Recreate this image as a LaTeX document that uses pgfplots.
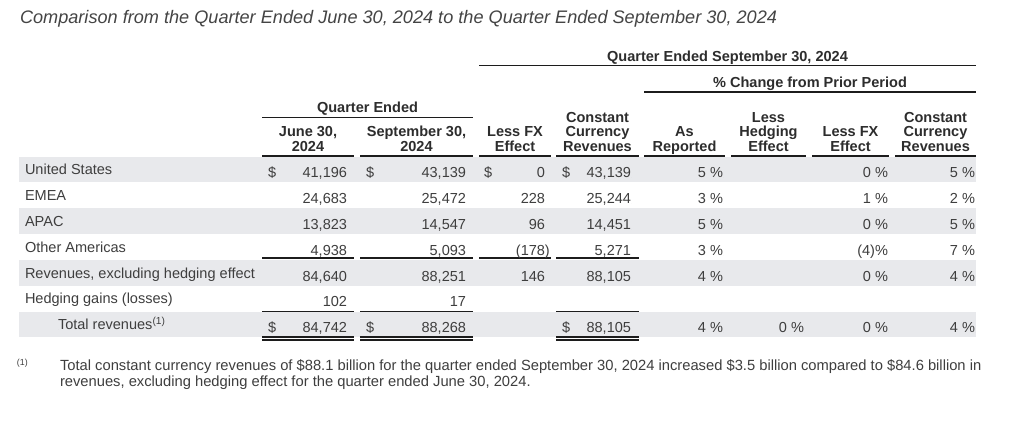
\documentclass[border=0pt]{standalone}
\usepackage{pgfplots}
\pgfplotsset{compat=1.18}
\usepackage{fontspec}
\setmainfont{Liberation Sans}
\definecolor{txtc}{RGB}{62,62,62}
\definecolor{hdrc}{RGB}{45,45,45}
\definecolor{titc}{RGB}{68,68,68}
\definecolor{bandc}{RGB}{232,233,236}
\definecolor{rulec}{RGB}{28,28,28}
\newcommand\bodyfont{\fontsize{10.9pt}{13pt}\selectfont}
\newcommand\footfont{\fontsize{11.05pt}{13pt}\selectfont}
\newcommand\titlefont{\fontsize{13.6pt}{16pt}\selectfont\itshape}
\newcommand\smallfont{\fontsize{6.6pt}{8pt}\selectfont}
\newcommand\rp{\makebox[0pt][l]{)}}
\pgfplotsset{
  txt/.style={only marks, mark=*, mark size=0pt, mark options={draw=none,fill=none},
    point meta=explicit symbolic, nodes near coords,
    every node near coord/.append style={inner sep=0pt, outer sep=0pt, text=txtc, font=\bodyfont}},
  L/.style={txt, every node near coord/.append style={anchor=base west}},
  R/.style={txt, every node near coord/.append style={anchor=base east}},
  C/.style={txt, every node near coord/.append style={anchor=base, font=\bodyfont\bfseries, text=hdrc}},
  bandp/.style={draw=none, fill=bandc},
  rl/.style={draw=rulec, line width=1.3pt, unbounded coords=jump, mark=none},
  rd/.style={draw=rulec, line width=0.9pt, unbounded coords=jump, mark=none},
}
\begin{document}
\begin{tikzpicture}
\begin{axis}[
  scale only axis, width=768pt, height=315.75pt,
  xmin=0, xmax=1024, ymin=0, ymax=421, y dir=reverse,
  hide axis, clip=false,
]
% background
\addplot[draw=none, fill=white] coordinates {(0,0)(1024,0)(1024,421)(0,421)};
% row bands
\addplot[bandp] coordinates {(19,156.5)(976,156.5)(976,182)(19,182)};
\addplot[bandp] coordinates {(19,208)(976,208)(976,233.5)(19,233.5)};
\addplot[bandp] coordinates {(19,260)(976,260)(976,285.5)(19,285.5)};
\addplot[bandp] coordinates {(19,312)(976,312)(976,337)(19,337)};
% rules
\addplot[rl] coordinates {(479,65.5)(976,65.5)};
\addplot[rl] coordinates {(644,92)(976,92)};
\addplot[rl] coordinates {(262,117.5)(473,117.5)};
\addplot[rl] coordinates {(262,156)(354,156) (nan,nan) (360,156)(473,156) (nan,nan) (479,156)(551,156) (nan,nan) (556,156)(639,156) (nan,nan) (644,156)(725,156) (nan,nan) (731,156)(806,156) (nan,nan) (812,156)(889,156) (nan,nan) (895,156)(976,156)};
\addplot[rl] coordinates {(262,258)(354,258) (nan,nan) (360,258)(473,258) (nan,nan) (479,258)(551,258) (nan,nan) (556,258)(639,258)};
\addplot[rl] coordinates {(262,311.5)(354,311.5) (nan,nan) (360,311.5)(473,311.5) (nan,nan) (556,311.5)(639,311.5)};
\addplot[rd] coordinates {(262,337)(354,337) (nan,nan) (360,337)(473,337) (nan,nan) (556,337)(639,337)};
\addplot[rd] coordinates {(262,340)(354,340) (nan,nan) (360,340)(473,340) (nan,nan) (556,340)(639,340)};
% title
\addplot[L, every node near coord/.append style={font=\titlefont, text=titc}] coordinates {(20,23) [Comparison from the Quarter Ended June 30, 2024 to the Quarter Ended September 30, 2024]};
% headers
\addplot[C] coordinates {
 (727.5,61) [Quarter Ended September 30, 2024]
 (810,87) [\% Change from Prior Period]
 (367.5,112) [Quarter Ended]
 (308,136.5) [June 30,] (308,151) [2024]
 (416.5,136.5) [September 30,] (416.5,151) [2024]
 (515,136.5) [Less FX] (515,151) [Effect]
 (597.5,122) [Constant] (597.5,136.5) [Currency] (597.5,151) [Revenues]
 (684.5,136.5) [As] (684.5,151) [Reported]
 (768.5,122) [Less] (768.5,136.5) [Hedging] (768.5,151) [Effect]
 (850.5,136.5) [Less FX] (850.5,151) [Effect]
 (935.5,122) [Constant] (935.5,136.5) [Currency] (935.5,151) [Revenues]
};
% row labels
\addplot[L] coordinates {
 (25,174) [United States]
 (25,200) [EMEA]
 (25,226) [APAC]
 (25,252) [Other Americas]
 (25,278) [Revenues, excluding hedging effect]
 (25,303.5) [Hedging gains (losses)]
 (58,329.5) [Total revenues\textsuperscript{(1)}]
};
% dollar signs
\addplot[L] coordinates {
 (268,177) [\$] (366,177) [\$] (484,177) [\$] (562,177) [\$]
 (268,332) [\$] (366,332) [\$] (562,332) [\$]
};
% June 30, 2024
\addplot[R] coordinates {
 (347,177) [{41,196}] (347,203) [{24,683}] (347,229) [{13,823}] (347,255) [{4,938}]
 (347,281) [{84,640}] (347,306.5) [{102}] (347,332) [{84,742}]
};
% September 30, 2024
\addplot[R] coordinates {
 (466,177) [{43,139}] (466,203) [{25,472}] (466,229) [{14,547}] (466,255) [{5,093}]
 (466,281) [{88,251}] (466,306.5) [{17}] (466,332) [{88,268}]
};
% Less FX effect
\addplot[R] coordinates {
 (545,177) [0] (545,203) [228] (545,229) [96] (545,255) [{(178\rp}] (545,281) [146]
};
% Constant currency revenues
\addplot[R] coordinates {
 (631,177) [{43,139}] (631,203) [{25,244}] (631,229) [{14,451}] (631,255) [{5,271}]
 (631,281) [{88,105}] (631,332) [{88,105}]
};
% As reported
\addplot[R] coordinates {
 (723,177) [5 \%] (723,203) [3 \%] (723,229) [5 \%] (723,255) [3 \%] (723,281) [4 \%] (723,332) [4 \%]
};
% Less hedging effect
\addplot[R] coordinates {(804,332) [0 \%]};
% Less FX effect (%)
\addplot[R] coordinates {
 (888,177) [0 \%] (888,203) [1 \%] (888,229) [0 \%] (888,255) [(4)\%] (888,281) [0 \%] (888,332) [0 \%]
};
% Constant currency revenues (%)
\addplot[R] coordinates {
 (975,177) [5 \%] (975,203) [2 \%] (975,229) [5 \%] (975,255) [7 \%] (975,281) [4 \%] (975,332) [4 \%]
};
% footnote
\addplot[L, every node near coord/.append style={font=\smallfont}] coordinates {(17,365) [(1)]};
\addplot[L, every node near coord/.append style={font=\footfont}] coordinates {
 (60,370) [Total constant currency revenues of \$88.1 billion for the quarter ended September 30, 2024 increased \$3.5 billion compared to \$84.6 billion in]
 (60,386) [revenues, excluding hedging effect for the quarter ended June 30, 2024.]
};
\end{axis}
\end{tikzpicture}
\end{document}
